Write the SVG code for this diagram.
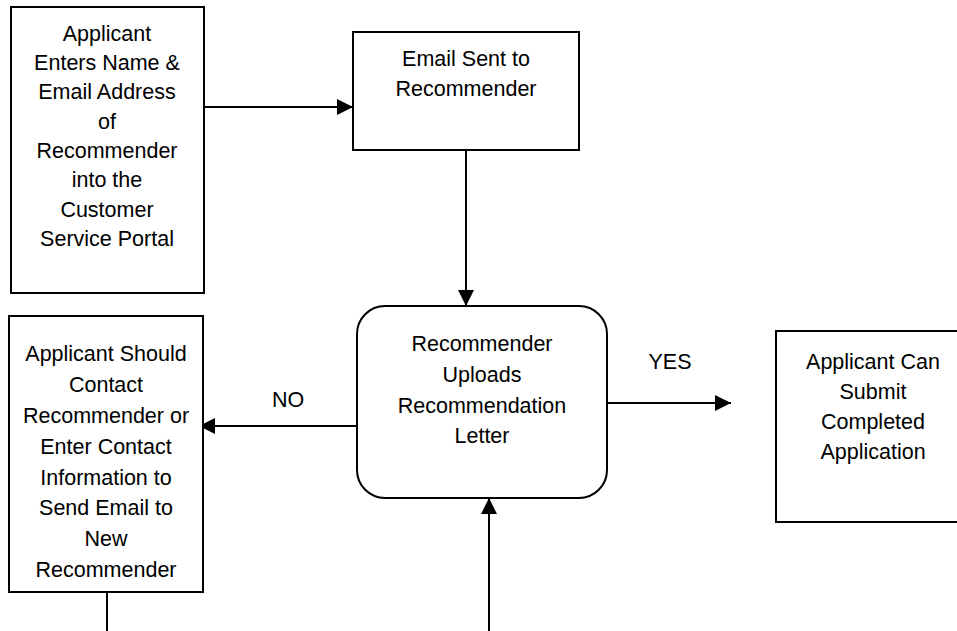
<svg xmlns="http://www.w3.org/2000/svg" width="957" height="631" viewBox="0 0 957 631">
<style>
.box{fill:#fff;stroke:#000;stroke-width:2}
.t{font-family:"Liberation Sans",Arial,sans-serif;font-size:21.5px;fill:#000;text-anchor:middle}
.c{fill:none;stroke:#000;stroke-width:2}
</style>
<defs>
<marker id="ah" markerUnits="userSpaceOnUse" markerWidth="16" markerHeight="16" viewBox="0 0 16 16" refX="16" refY="8" orient="auto">
<path d="M0,0 L16,8 L0,16 Z" fill="#000"/>
</marker>
</defs>
<rect width="957" height="631" fill="#fff"/>
<g id="connectors">
<line class="c" x1="204" y1="107" x2="353" y2="107" marker-end="url(#ah)"/>
<line class="c" x1="466" y1="150" x2="466" y2="306" marker-end="url(#ah)"/>
<line class="c" x1="357" y1="426" x2="199" y2="426" marker-end="url(#ah)"/>
<line class="c" x1="607" y1="403" x2="731" y2="403" marker-end="url(#ah)"/>
<line class="c" x1="489" y1="631" x2="489" y2="498" marker-end="url(#ah)"/>
<line class="c" x1="107" y1="592" x2="107" y2="631"/>
<text class="t" x="288" y="407">NO</text>
<text class="t" x="670" y="369">YES</text>
</g>
<g id="n1">
<rect class="box" x="11" y="7" width="193" height="286"/>
<text class="t" x="107"><tspan x="107" y="41">Applicant</tspan><tspan x="107" y="70">Enters Name &amp;</tspan><tspan x="107" y="99">Email Address</tspan><tspan x="107" y="129">of</tspan><tspan x="107" y="158">Recommender</tspan><tspan x="107" y="187">into the</tspan><tspan x="107" y="217">Customer</tspan><tspan x="107" y="246">Service Portal</tspan></text>
</g>
<g id="n2">
<rect class="box" x="353" y="32" width="226" height="118"/>
<text class="t"><tspan x="466" y="66">Email Sent to</tspan><tspan x="466" y="96">Recommender</tspan></text>
</g>
<g id="n3">
<rect class="box" x="357" y="306" width="250" height="192" rx="28" ry="28"/>
<text class="t"><tspan x="482" y="351">Recommender</tspan><tspan x="482" y="382">Uploads</tspan><tspan x="482" y="413">Recommendation</tspan><tspan x="482" y="443">Letter</tspan></text>
</g>
<g id="n4">
<rect class="box" x="9" y="316" width="194" height="276"/>
<text class="t"><tspan x="106" y="361">Applicant Should</tspan><tspan x="106" y="392">Contact</tspan><tspan x="106" y="423">Recommender or</tspan><tspan x="106" y="454">Enter Contact</tspan><tspan x="106" y="485">Information to</tspan><tspan x="106" y="515">Send Email to</tspan><tspan x="106" y="546">New</tspan><tspan x="106" y="577">Recommender</tspan></text>
</g>
<g id="n5">
<rect class="box" x="776" y="331" width="200" height="191"/>
<text class="t"><tspan x="873" y="369">Applicant Can</tspan><tspan x="873" y="399">Submit</tspan><tspan x="873" y="429">Completed</tspan><tspan x="873" y="459">Application</tspan></text>
</g>
</svg>
